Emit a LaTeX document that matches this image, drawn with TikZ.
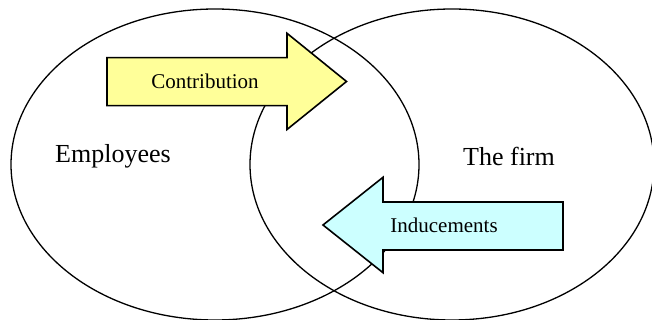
\documentclass[tikz,border=0pt]{standalone}
\usepackage{fontspec}
\setmainfont{Liberation Serif}
\usetikzlibrary{positioning,calc}

\definecolor{contribyellow}{HTML}{FFFF99}
\definecolor{inducecyan}{HTML}{CCFFFF}

\begin{document}
\begin{tikzpicture}[x=0.5pt,y=-0.5pt]

  \tikzset{
    setline/.style={draw, line width=0.65pt},
    bigarrow/.style={draw, line width=0.8pt, line join=miter},
    setname/.style={font=\fontsize{13}{15}\selectfont, inner sep=0pt},
    flowname/.style={font=\fontsize{10.5}{12}\selectfont, inner sep=0pt},
  }

  \useasboundingbox (0,0) rectangle (652,320);

  % the two sets
  \draw[setline] (215,164.5) ellipse [x radius=102pt, y radius=77.75pt];
  \draw[setline] (452,164.5) ellipse [x radius=101pt, y radius=77.75pt];

  \node[setname] (employees) at (113,156) {Employees};
  \node[setname] (firm) at (509,156) {The firm};

  % employees -> firm
  \filldraw[bigarrow, fill=contribyellow] (107,57.7) -- (287,57.7) -- (287,33.3)
    -- (346.5,81.5) -- (287,129.5) -- (287,105.7) -- (107,105.7) -- cycle;
  \node[flowname] (contrib) at (205,81.5) {Contribution};

  % firm -> employees
  \filldraw[bigarrow, fill=inducecyan] (563,202) -- (383,202) -- (383,177.3)
    -- (323,225) -- (383,272.7) -- (383,250) -- (563,250) -- cycle;
  \node[flowname] (induce) at (444,225) {Inducements};

\end{tikzpicture}
\end{document}
